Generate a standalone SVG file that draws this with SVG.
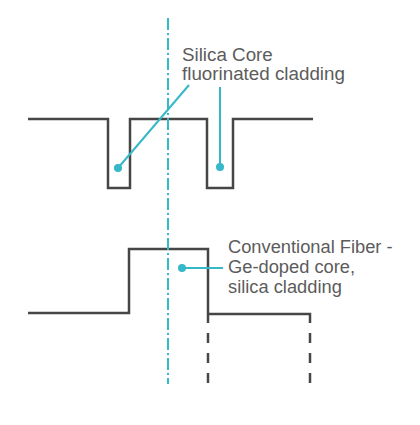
<svg xmlns="http://www.w3.org/2000/svg" width="420" height="425" viewBox="0 0 420 425">
<style>
.prof{fill:none;stroke:#464646;stroke-width:2.5;stroke-linejoin:miter}
.dash{fill:none;stroke:#464646;stroke-width:2.5;stroke-dasharray:10 10}
.axis{fill:none;stroke:#35b8c8;stroke-width:2;stroke-dasharray:12 3 2 3}
.call{fill:none;stroke:#35b8c8;stroke-width:2}
.dot{fill:#35b8c8}
.lbl{font-family:"Liberation Sans",Arial,sans-serif;font-size:18.3px;fill:#5c5c5c}
.big{font-size:18.8px}
</style>
<rect width="420" height="425" fill="#ffffff"/>
<g id="top-profile">
<path class="prof" d="M28,119 H108 V188 H130 V119 H207 V188 H233 V119 H313"/>
</g>
<g id="bottom-profile">
<path class="prof" d="M28,313 H129 V249 H208 V323"/>
<path class="prof" d="M208,314 H310 V323"/>
<path class="dash" d="M208,333 V384"/>
<path class="dash" d="M310,333 V384"/>
</g>
<g id="axis">
<path class="axis" d="M168,18 V384"/>
</g>
<g id="connectors">
<path class="call" d="M189,85 L118,168"/>
<circle class="dot" cx="118" cy="168" r="4"/>
<path class="call" d="M220,87 V167"/>
<circle class="dot" cx="220" cy="167" r="4"/>
<path class="call" d="M182,268 H223"/>
<circle class="dot" cx="182" cy="268" r="4"/>
</g>
<g id="label-silica">
<text class="lbl big" x="182" y="61">Silica Core</text>
<text class="lbl big" x="182" y="80">fluorinated cladding</text>
</g>
<g id="label-conventional">
<text class="lbl" x="228" y="253">Conventional Fiber -</text>
<text class="lbl" x="228" y="273">Ge-doped core,</text>
<text class="lbl" x="228" y="293">silica cladding</text>
</g>
</svg>
